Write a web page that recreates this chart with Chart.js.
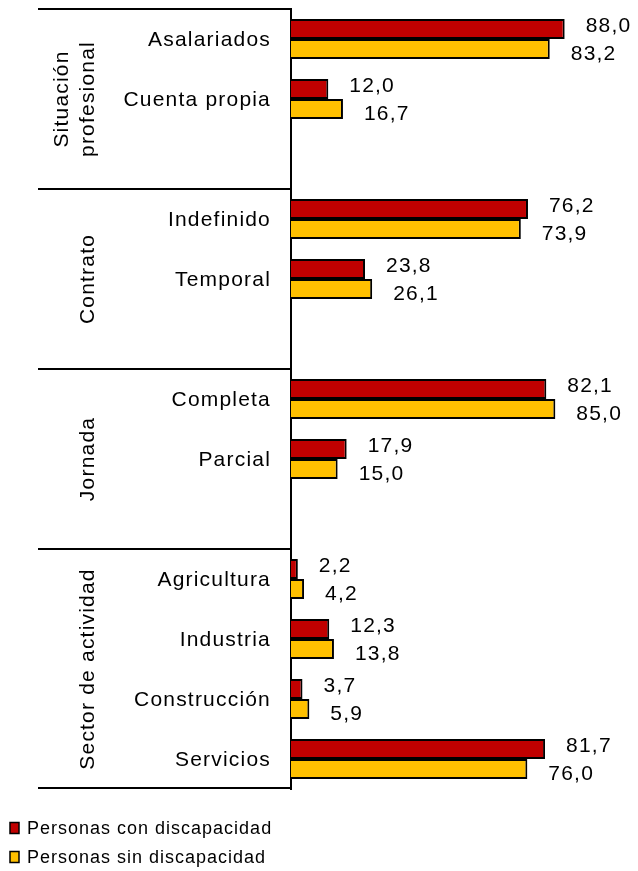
<!DOCTYPE html>
<html>
<head>
<meta charset="utf-8">
<script src="https://cdn.jsdelivr.net/npm/chart.js"></script>
<style>
  body{ margin:0; background:#fff; }
  #wrap{ width:638px; height:871px; }
</style>
</head>
<body>
<div id="wrap"><canvas id="grafico"></canvas></div>
<script>
// DATOS (hueco '' = fila vacía al final de cada bloque)
var categorias = ['Asalariados','Cuenta propia','','Indefinido','Temporal','','Completa','Parcial','','Agricultura','Industria','Construcción','Servicios'];
var conDiscapacidad = [88.0, 12.0, null, 76.2, 23.8, null, 82.1, 17.9, null, 2.2, 12.3, 3.7, 81.7];
var sinDiscapacidad = [83.2, 16.7, null, 73.9, 26.1, null, 85.0, 15.0, null, 4.2, 13.8, 5.9, 76.0];
var bloques = [['Situación','profesional'], ['Contrato'], ['Jornada'], ['Sector de actividad']];
var filasBloque = [3, 3, 3, 4];
var series = ['Personas con discapacidad', 'Personas sin discapacidad'];
var colores = ['#C00000', '#FFC000'];

var FUENTE = '"Liberation Sans", Arial, sans-serif';

function fmt(v){ return v.toFixed(1).replace('.', ','); }

// textos, separadores, etiquetas y leyenda
var extras = {
  id: 'extras',
  afterDraw: function(chart){
    var ctx = chart.ctx;
    var y = chart.scales.y, x = chart.scales.x;
    var area = chart.chartArea;
    var medio = (y.getPixelForValue(1) - y.getPixelForValue(0)) / 2;
    ctx.save();
    ctx.fillStyle = '#000';

    // categorias
    ctx.font = '21px ' + FUENTE;
    ctx.letterSpacing = '1.2px';
    ctx.textAlign = 'right';
    ctx.textBaseline = 'middle';
    categorias.forEach(function(c, i){
      if(c) ctx.fillText(c, 271, y.getPixelForValue(i) + 1);
    });

    // separadores y nombres de bloque
    ctx.strokeStyle = '#000';
    ctx.lineWidth = 2;
    var ini = 0;
    bloques.forEach(function(nom, b){
      var fin = ini + filasBloque[b] - 1;
      var top = y.getPixelForValue(ini) - medio;
      var bot = y.getPixelForValue(fin) + medio;
      ctx.beginPath();
      ctx.moveTo(38, top); ctx.lineTo(area.left, top);
      ctx.stroke();
      if(b === bloques.length - 1){
        ctx.beginPath();
        ctx.moveTo(38, bot - 1); ctx.lineTo(area.left, bot - 1);
        ctx.stroke();
      }
      var cy = (top + bot) / 2;
      ctx.save();
      ctx.textAlign = 'center';
      ctx.textBaseline = 'alphabetic';
      nom.forEach(function(linea, k){
        var bx = 94 - (nom.length - 1 - k) * 26;
        ctx.save();
        ctx.translate(bx, cy);
        ctx.rotate(-Math.PI / 2);
        ctx.fillText(linea, 0, 0);
        ctx.restore();
      });
      ctx.restore();
      ini += filasBloque[b];
    });

    // etiquetas de valor
    ctx.textAlign = 'left';
    ctx.textBaseline = 'middle';
    chart.data.datasets.forEach(function(ds, d){
      var meta = chart.getDatasetMeta(d);
      meta.data.forEach(function(bar, i){
        var v = ds.data[i];
        if(v == null) return;
        var dy = d === 0 ? -3 : 5;
        ctx.fillText(fmt(v), x.getPixelForValue(v) + 21, bar.y + dy);
      });
    });

    // leyenda
    ctx.font = '18px ' + FUENTE;
    ctx.letterSpacing = '1px';
    series.forEach(function(s, k){
      var ly = 828 + k * 29;
      ctx.fillStyle = colores[k];
      ctx.fillRect(10, ly - 5.5, 9, 11);
      ctx.lineWidth = 1.5;
      ctx.strokeRect(10, ly - 5.5, 9, 11);
      ctx.fillStyle = '#000';
      ctx.fillText(s, 27, ly + 1);
    });
    ctx.restore();
  }
};

new Chart(document.getElementById('grafico'), {
  type: 'bar',
  data: {
    labels: categorias,
    datasets: [
      { label: series[0], data: conDiscapacidad, backgroundColor: colores[0] },
      { label: series[1], data: sinDiscapacidad, backgroundColor: colores[1] }
    ]
  },
  options: {
    indexAxis: 'y',
    responsive: true,
    maintainAspectRatio: false,
    animation: false,
    layout: { padding: { top: 9, bottom: 82, left: 0, right: 36 } },
    datasets: {
      bar: {
        categoryPercentage: 0.667,
        barPercentage: 1,
        borderColor: '#000',
        borderWidth: 2,
        borderSkipped: 'start'
      }
    },
    scales: {
      x: { display: false, min: 0, max: 100 },
      y: {
        grid: { display: false, drawTicks: false },
        border: { display: true, color: '#000', width: 2 },
        ticks: { display: false },
        afterFit: function(s){ s.width = 291; }
      }
    },
    plugins: {
      legend: { display: false },
      tooltip: { enabled: false }
    }
  },
  plugins: [extras]
});
</script>
</body>
</html>
